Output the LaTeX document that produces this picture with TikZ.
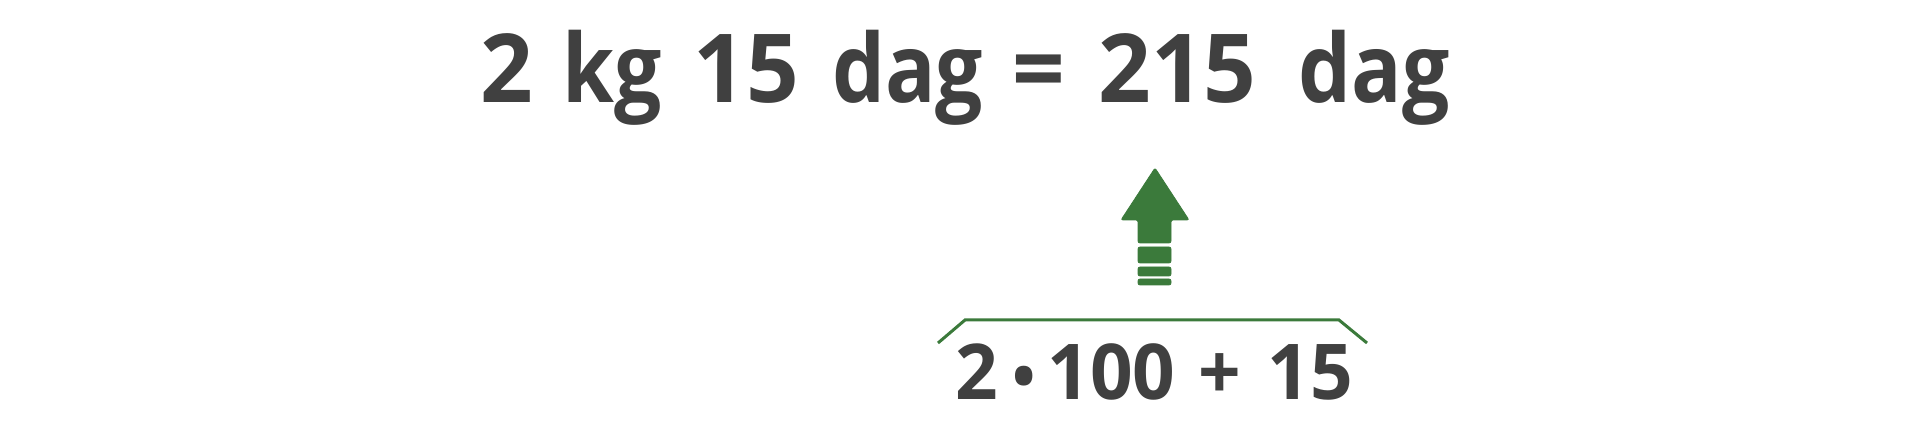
\documentclass[tikz,border=0pt]{standalone}
\usepackage{fontspec}
\setmainfont{Open Sans}[FakeStretch=0.88]
\newfontfamily\digfont{Open Sans}[FakeStretch=0.97]
\definecolor{txt}{HTML}{404040}
\definecolor{grn}{HTML}{3B7A3B}
\begin{document}
\begin{tikzpicture}[x=1pt,y=-1pt,
  eqtext/.style={inner sep=0pt,anchor=base,text=txt,font=\fontsize{95.2}{110}\selectfont\bfseries},
  eqdig/.style={eqtext,font=\fontsize{95.2}{110}\selectfont\digfont\bfseries},
  subtext/.style={inner sep=0pt,anchor=base,text=txt,font=\fontsize{77}{90}\selectfont\digfont\bfseries},
  dotsign/.style={inner sep=0pt,anchor=center,text=txt,font=\fontsize{64}{74}\selectfont\digfont\bfseries},
  arrowpart/.style={fill=grn,draw=grn,line width=0.8pt,rounded corners=2pt},
  bracket/.style={draw=grn,line width=3pt,line join=miter}]
\useasboundingbox (0,0) rectangle (1920,443);
% top equation
\node[eqdig]  (t1) at (506.5,103) {2};
\node[eqtext] (t2) at (612,103) {kg};
\node[eqdig]  (t3) at (746.5,103) {15};
\node[eqtext] (t4) at (907.5,103) {dag};
\node[eqdig]  (t5) at (1039,103) {=};
\node[eqdig]  (t6) at (1177.5,103) {215};
\node[eqtext] (t7) at (1374,103) {dag};
% bottom expression
\node[subtext] (b1) at (977,400) {2};
\node[dotsign] (b2) at (1024,382.5) {•};
\node[subtext] (b3) at (1111.5,400) {100};
\node[subtext] (b4) at (1220,400) {+};
\node[subtext] (b5) at (1310.5,400) {15};
% bracket
\coordinate (bl) at (938,343);
\coordinate (bcl) at (965,320);
\coordinate (bcr) at (1339,320);
\coordinate (br) at (1367,343);
\draw[bracket] (bl) -- (bcl) -- (bcr) -- (br);
% arrow
\path[arrowpart] (1155,168) -- (1189,220) -- (1171,220) -- (1171,243) -- (1138,243) -- (1138,220) -- (1121,220) -- cycle;
\path[arrowpart] (1138,247) rectangle (1171,263);
\path[arrowpart] (1138,267) rectangle (1171,276);
\path[arrowpart] (1138,279) rectangle (1171,285);
\end{tikzpicture}
\end{document}
